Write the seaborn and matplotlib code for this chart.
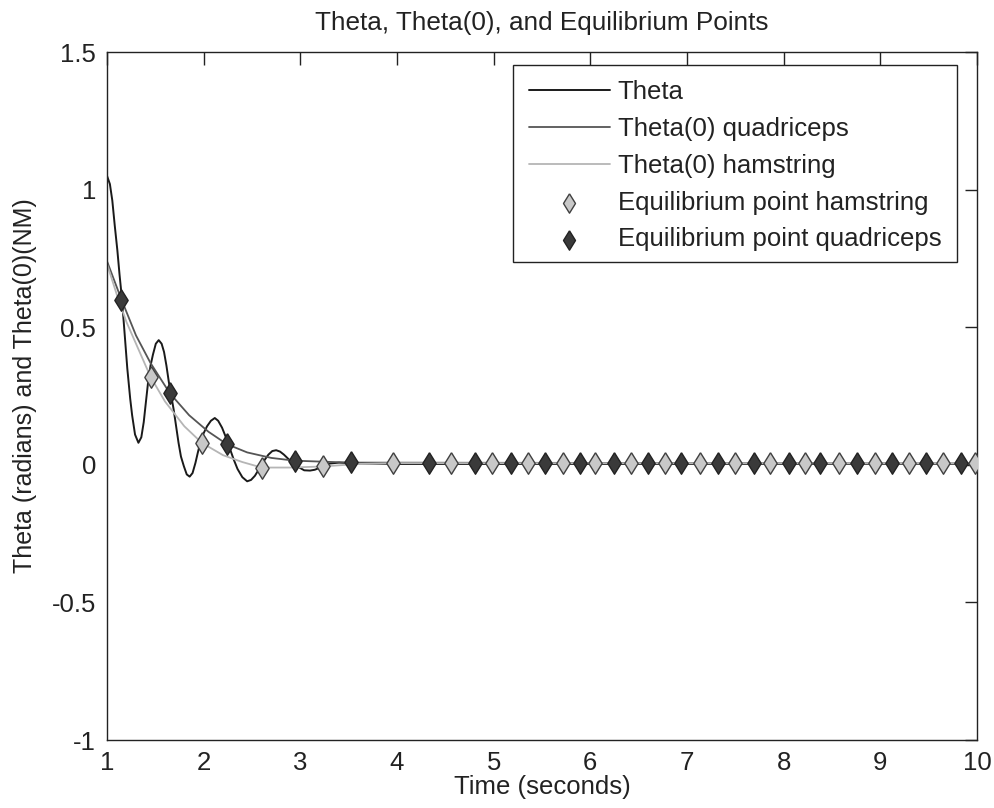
import numpy as np
import pandas as pd
import matplotlib
matplotlib.use("Agg")
import matplotlib.pyplot as plt
from matplotlib.patches import Rectangle
import seaborn as sns

# ---- data ----
theta_t = [1.00, 1.03, 1.055, 1.08, 1.107, 1.13, 1.15, 1.175, 1.21, 1.24, 1.26, 1.29,
           1.325, 1.355, 1.38, 1.40, 1.425, 1.45, 1.475, 1.505, 1.535, 1.565, 1.59,
           1.615, 1.64, 1.665, 1.69, 1.715, 1.74, 1.765, 1.795, 1.825, 1.855, 1.885,
           1.915, 1.94, 1.965, 2.00, 2.035, 2.075, 2.115, 2.15, 2.19, 2.23, 2.27, 2.31,
           2.35, 2.40, 2.45, 2.49, 2.53, 2.565, 2.60, 2.635, 2.67, 2.71, 2.75, 2.79,
           2.83, 2.88, 2.94, 2.99, 3.04, 3.10, 3.15, 3.22, 3.29, 3.40, 3.60, 4.00, 10.0]
theta_y = [1.05, 1.02, 0.96, 0.87, 0.78, 0.69, 0.62, 0.51, 0.35, 0.24, 0.18, 0.11,
           0.08, 0.10, 0.155, 0.22, 0.30, 0.36, 0.40, 0.44, 0.453, 0.44, 0.41,
           0.36, 0.30, 0.25, 0.20, 0.14, 0.08, 0.03, -0.005, -0.035, -0.043, -0.03,
           0.007, 0.045, 0.08, 0.115, 0.14, 0.16, 0.17, 0.16, 0.135, 0.10, 0.06, 0.02,
           -0.015, -0.045, -0.06, -0.055, -0.04, -0.02, 0.0, 0.02, 0.037, 0.05, 0.053, 0.048,
           0.037, 0.02, 0.006, -0.01, -0.02, -0.021, -0.018, -0.008, 0.004, 0.008, 0.005, 0.003, 0.003]

quad_line_t = [1.00, 1.15, 1.30, 1.45, 1.65, 1.85, 2.05, 2.24, 2.45, 2.70, 2.94, 3.50, 10.0]
quad_line_y = [0.74, 0.60, 0.47, 0.37, 0.26, 0.18, 0.12, 0.075, 0.045, 0.025, 0.015, 0.008, 0.005]

ham_line_t = [1.00, 1.10, 1.20, 1.30, 1.45, 1.60, 1.80, 1.98, 2.20, 2.40, 2.60, 2.90, 3.23, 3.60, 3.96, 10.0]
ham_line_y = [0.73, 0.62, 0.52, 0.44, 0.32, 0.23, 0.14, 0.08, 0.035, 0.01, -0.01, -0.01, -0.006, 0.003, 0.006, 0.005]

eq_ham_t = [1.45, 1.98, 2.60, 3.23, 3.96, 4.56, 4.98, 5.355, 5.72, 6.05, 6.42, 6.77, 7.13,
            7.50, 7.86, 8.22, 8.57, 8.94, 9.30, 9.65, 9.98]
eq_ham_y = [0.32, 0.08, -0.01, -0.006, 0.008, 0.008, 0.008, 0.008, 0.008, 0.008, 0.008,
            0.008, 0.008, 0.008, 0.008, 0.008, 0.008, 0.008, 0.008, 0.008, 0.008]

eq_quad_t = [1.15, 1.65, 2.24, 2.94, 3.52, 4.33, 4.81, 5.18, 5.53, 5.89, 6.24, 6.60, 6.94,
             7.32, 7.69, 8.06, 8.38, 8.76, 9.12, 9.47, 9.83]
eq_quad_y = [0.60, 0.26, 0.075, 0.015, 0.01, 0.008, 0.008, 0.008, 0.008, 0.008, 0.008,
             0.008, 0.008, 0.008, 0.008, 0.008, 0.008, 0.008, 0.008, 0.008, 0.008]

x_ticks = [1, 2, 3, 4, 5, 6, 7, 8, 9, 10]
y_ticks = [-1, -0.5, 0, 0.5, 1, 1.5]
y_ticklabels = ["-1", "-0.5", "0", "0.5", "1", "1.5"]

# ---- plotting ----
sns.set_style("white")
plt.rcParams['font.family'] = ['Liberation Sans', 'DejaVu Sans']

fig = plt.figure(figsize=(9.94, 8.08), dpi=100)
ax = fig.add_axes([107/994, 1-740/808, 870/994, 688/808])

sns.lineplot(x=theta_t, y=theta_y, ax=ax, color='#1a1a1a', lw=1.4, estimator=None,
             sort=False, label='Theta')
sns.lineplot(x=quad_line_t, y=quad_line_y, ax=ax, color='#555555', lw=1.3, estimator=None,
             sort=False, label='Theta(0) quadriceps')
sns.lineplot(x=ham_line_t, y=ham_line_y, ax=ax, color='#b5b5b5', lw=1.3, estimator=None,
             sort=False, label='Theta(0) hamstring')

diamond = [(0, 1), (0.62, 0), (0, -1), (-0.62, 0), (0, 1)]
sns.scatterplot(x=eq_ham_t, y=eq_ham_y, ax=ax, marker=diamond, s=240, color='#c8c8c8',
                edgecolor='#404040', linewidth=1.0, label='Equilibrium point hamstring', zorder=5)
sns.scatterplot(x=eq_quad_t, y=eq_quad_y, ax=ax, marker=diamond, s=240, color='#3a3a3a',
                edgecolor='#222222', linewidth=1.0, label='Equilibrium point quadriceps', zorder=5)

ax.set_xlim(1, 10)
ax.set_ylim(-1, 1.5)
ax.set_xticks(x_ticks)
ax.set_xticklabels([str(v) for v in x_ticks])
ax.set_yticks(y_ticks)
ax.set_yticklabels(y_ticklabels)
ax.tick_params(direction='in', length=9, width=1, top=True, right=True,
               labelsize=18.5, colors='#222222', pad=8)
for sp in ax.spines.values():
    sp.set_color('#222222')
    sp.set_linewidth(1.0)

ax.set_title('Theta, Theta(0), and Equilibrium Points', fontsize=18.8, pad=16, color='#222222')
ax.set_xlabel('Time (seconds)', fontsize=18.5, color='#222222', labelpad=0)
ax.set_ylabel('Theta (radians) and Theta(0)(NM)', fontsize=18, color='#222222')
ax.yaxis.set_label_coords((37-107)/870, (740-386)/688)

leg = ax.legend(loc='upper left', bbox_to_anchor=((529-107)/870, (740-80)/688),
                frameon=False, fontsize=18.5, handlelength=3.15, handletextpad=0.3,
                labelspacing=0.5, borderpad=0, borderaxespad=0, markerscale=0.9)
for txt in leg.get_texts():
    txt.set_color('#222222')

ax.add_patch(Rectangle((0.4667, 0.6948), 0.977-0.4667, 0.981-0.6948, transform=ax.transAxes,
                       fill=True, facecolor='none', edgecolor='#222222', lw=1.0, zorder=6))

fig.savefig('out.png', dpi=100, facecolor='white')
